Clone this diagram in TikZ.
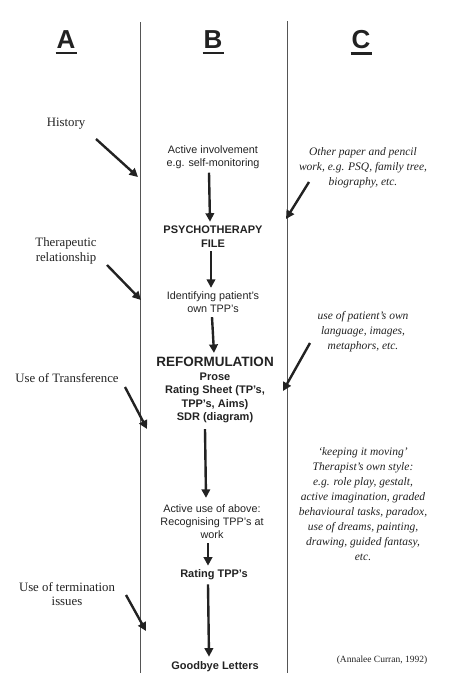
\documentclass[tikz,border=0pt]{standalone}
\usepackage{fontspec}
\setmainfont{Liberation Serif}
\setsansfont{Liberation Sans}
\usepackage{xcolor}
\usetikzlibrary{arrows.meta,positioning}
\definecolor{inkGrey}{HTML}{222222}
\definecolor{ruleGrey}{HTML}{555555}

\begin{document}
\begin{tikzpicture}[
  x=1pt, y=-1pt,
  >={Triangle[length=8.5pt,width=8.5pt]},
  every node/.style={inner sep=1pt,text=inkGrey},
  head/.style={font=\sffamily\bfseries\fontsize{26}{28}\selectfont},
  lft/.style={font=\fontsize{12.8}{14.5}\selectfont,align=center},
  mid/.style={font=\sffamily\fontsize{10.8}{13}\selectfont,align=center},
  midbf/.style={font=\sffamily\bfseries\fontsize{11}{13.5}\selectfont,align=center},
  rgt/.style={font=\itshape\fontsize{11.5}{15}\selectfont,align=center},
  arr/.style={->,line width=2.4pt,draw=inkGrey},
  rule/.style={line width=0.8pt,draw=ruleGrey},
]
  \useasboundingbox (0,0) rectangle (450,680);

  % columns
  \draw[rule] (140,22) -- (140,673);
  \draw[rule] (287,21) -- (287,673);

  \node[head] (hA) at (66,40) {A};
  \node[head] (hB) at (213,40) {B};
  \node[head] (hC) at (361,40) {C};
  \foreach \h in {hA,hB,hC}
    \draw[line width=2.6pt,draw=inkGrey] ([xshift=-10.5pt,yshift=-3pt]\h.south) -- ([xshift=10.5pt,yshift=-3pt]\h.south);

  % column A
  \node[lft] (hist) at (66,124) {History};
  \node[lft] (ther) at (66,251) {Therapeutic\\relationship};
  \node[lft] (trans) at (67,378) {Use of Transference};
  \node[lft] (term) at (67,594) {Use of termination\\issues};

  \coordinate (h1) at (96,139);  \coordinate (h2) at (138,177);
  \coordinate (t1) at (107,265); \coordinate (t2) at (141,300);
  \coordinate (u1) at (125,387); \coordinate (u2) at (147,429);
  \coordinate (e1) at (126,595); \coordinate (e2) at (146,631);
  \draw[arr] (h1) -- (h2);
  \draw[arr] (t1) -- (t2);
  \draw[arr] (u1) -- (u2);
  \draw[arr] (e1) -- (e2);

  % column B
  \node[mid] (inv) at (213,157) {Active involvement\\e.g. self-monitoring};
  \node[midbf] (file) at (213,236.5) {PSYCHOTHERAPY\\FILE};
  \node[mid] (ident) at (213,302.5) {Identifying patient's\\own TPP's};
  \node[midbf] (reform) at (215,390) {{\fontsize{13.5}{14}\selectfont REFORMULATION}\\Prose\\Rating Sheet (TP's,\\TPP's, Aims)\\SDR (diagram)};
  \node[mid] (use) at (212,522) {Active use of above:\\Recognising TPP's at\\work};
  \node[midbf] (rtpp) at (214,575) {Rating TPP's};
  \node[midbf] (bye) at (215,667) {Goodbye Letters};

  \draw[arr] ([xshift=-4pt,yshift=-3pt]inv.south) -- ([xshift=-3pt,yshift=3pt]file.north);
  \draw[arr] ([xshift=-2pt,yshift=-3pt]file.south) -- ([xshift=-2pt,yshift=3pt]ident.north);
  \draw[arr] ([xshift=-1pt,yshift=-3pt]ident.south) -- ([xshift=-1pt,yshift=3pt]reform.north);
  \draw[arr] ([xshift=-10pt,yshift=-5pt]reform.south) -- ([xshift=-6pt,yshift=6pt]use.north);
  \draw[arr] ([xshift=-4pt,yshift=-3pt]use.south) -- ([xshift=-6pt,yshift=3pt]rtpp.north);
  \draw[arr] ([xshift=-6pt,yshift=-3pt]rtpp.south) -- ([xshift=-6pt,yshift=4pt]bye.north);

  % column C
  \node[rgt] (paper) at (363,168) {Other paper and pencil\\work, e.g. PSQ, family tree,\\biography, etc.};
  \node[rgt] (lang) at (363,332) {use of patient's own\\language, images,\\metaphors, etc.};
  \node[rgt] (style) at (363,504.5) {`keeping it moving'\\Therapist's own style:\\e.g. role play, gestalt,\\active imagination, graded\\behavioural tasks, paradox,\\use of dreams, painting,\\drawing, guided fantasy,\\etc.};
  \node[font=\fontsize{9.5}{11}\selectfont] (cite) at (382,660) {(Annalee Curran, 1992)};

  \coordinate (p1) at (309,182); \coordinate (p2) at (286,219);
  \coordinate (l1) at (310,343); \coordinate (l2) at (283,391);
  \draw[arr] (p1) -- (p2);
  \draw[arr] (l1) -- (l2);
\end{tikzpicture}
\end{document}
